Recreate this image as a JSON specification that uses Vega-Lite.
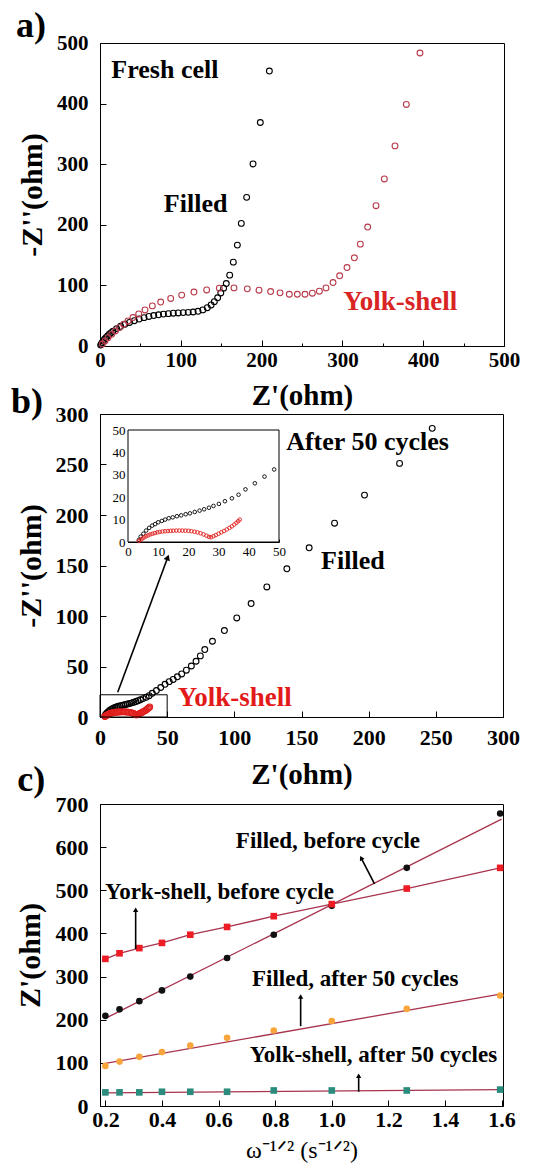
{
 "$schema": "https://vega.github.io/schema/vega-lite/v6.json",
 "background": "white",
 "padding": {"left": 10, "top": 7, "right": 5, "bottom": 0},
 "bounds": "flush",
 "spacing": 0,
 "resolve": {"scale": {"color": "independent", "shape": "independent"}},
 "config": {
  "view": {"stroke": "#000000", "strokeWidth": 1},
  "axis": {"grid": false, "domainColor": "#000000", "tickColor": "#000000", "labelColor": "#000000", "titleColor": "#000000", "labelFont": "Liberation Serif", "titleFont": "Liberation Serif", "labelFontWeight": "bold", "titleFontWeight": "bold", "labelFlush": false, "labelOverlap": false, "domainWidth": 1, "tickWidth": 1}
 },
 "datasets": {
  "a": [
   {"s":"Filled","zr":0.8,"zi":1.5},{"s":"Filled","zr":1.7,"zi":3.3},{"s":"Filled","zr":2.8,"zi":5.8},{"s":"Filled","zr":4.1,"zi":8.3},{"s":"Filled","zr":5.6,"zi":11},{"s":"Filled","zr":7.4,"zi":13.8},{"s":"Filled","zr":9.4,"zi":16.6},{"s":"Filled","zr":11.6,"zi":19.3},{"s":"Filled","zr":13.8,"zi":21.9},{"s":"Filled","zr":16.1,"zi":24.3},{"s":"Filled","zr":20.6,"zi":28.7},{"s":"Filled","zr":25.6,"zi":32.5},{"s":"Filled","zr":30.9,"zi":35.8},{"s":"Filled","zr":36.5,"zi":38.8},{"s":"Filled","zr":42.5,"zi":41.8},{"s":"Filled","zr":48.5,"zi":44.5},{"s":"Filled","zr":54.5,"zi":46.8},{"s":"Filled","zr":60.5,"zi":48.7},{"s":"Filled","zr":66.5,"zi":50.2},{"s":"Filled","zr":72.5,"zi":51.5},{"s":"Filled","zr":78.5,"zi":52.6},{"s":"Filled","zr":84.6,"zi":53.4},{"s":"Filled","zr":90.7,"zi":54.1},{"s":"Filled","zr":96.8,"zi":54.6},{"s":"Filled","zr":103,"zi":55.1},{"s":"Filled","zr":109.2,"zi":55.5},{"s":"Filled","zr":115.3,"zi":56.1},{"s":"Filled","zr":121.3,"zi":57.3},{"s":"Filled","zr":127.2,"zi":59.6},{"s":"Filled","zr":132.8,"zi":63.2},{"s":"Filled","zr":137.5,"zi":67.8},{"s":"Filled","zr":141.5,"zi":73.2},{"s":"Filled","zr":145.6,"zi":79.5},{"s":"Filled","zr":149.5,"zi":87.5},{"s":"Filled","zr":153,"zi":95.5},{"s":"Filled","zr":156.3,"zi":103},{"s":"Filled","zr":160.5,"zi":116.9},{"s":"Filled","zr":165,"zi":138.4},{"s":"Filled","zr":170,"zi":166.5},{"s":"Filled","zr":174.9,"zi":202.3},{"s":"Filled","zr":181.5,"zi":245.3},{"s":"Filled","zr":189.4,"zi":300.4},{"s":"Filled","zr":198.4,"zi":368.8},{"s":"Filled","zr":209.6,"zi":453.7},
   {"s":"Yolk-shell","zr":2.9,"zi":3.3},{"s":"Yolk-shell","zr":6.2,"zi":8.3},{"s":"Yolk-shell","zr":9.9,"zi":13.8},{"s":"Yolk-shell","zr":14.4,"zi":19.3},{"s":"Yolk-shell","zr":19,"zi":24.8},{"s":"Yolk-shell","zr":23.9,"zi":30.3},{"s":"Yolk-shell","zr":29.3,"zi":35.8},{"s":"Yolk-shell","zr":34.7,"zi":41.3},{"s":"Yolk-shell","zr":40.8,"zi":46.9},{"s":"Yolk-shell","zr":47.9,"zi":52.9},{"s":"Yolk-shell","zr":55.7,"zi":59.5},{"s":"Yolk-shell","zr":64.8,"zi":66.2},{"s":"Yolk-shell","zr":75.1,"zi":72.5},{"s":"Yolk-shell","zr":87.5,"zi":78.5},{"s":"Yolk-shell","zr":101.1,"zi":84},{"s":"Yolk-shell","zr":116.3,"zi":89},{"s":"Yolk-shell","zr":132,"zi":92.5},{"s":"Yolk-shell","zr":147.7,"zi":95.5},{"s":"Yolk-shell","zr":165.8,"zi":95.9},{"s":"Yolk-shell","zr":182.3,"zi":94.3},{"s":"Yolk-shell","zr":196.8,"zi":92.1},{"s":"Yolk-shell","zr":211.2,"zi":89.9},{"s":"Yolk-shell","zr":222.8,"zi":87.7},{"s":"Yolk-shell","zr":234.3,"zi":85.4},{"s":"Yolk-shell","zr":244.2,"zi":85.4},{"s":"Yolk-shell","zr":253.7,"zi":85.4},{"s":"Yolk-shell","zr":262.8,"zi":87.1},{"s":"Yolk-shell","zr":271.5,"zi":90.4},{"s":"Yolk-shell","zr":279.7,"zi":95.9},{"s":"Yolk-shell","zr":288.4,"zi":104.7},{"s":"Yolk-shell","zr":296.6,"zi":115.8},{"s":"Yolk-shell","zr":305.7,"zi":129.5},{"s":"Yolk-shell","zr":314.8,"zi":145.5},{"s":"Yolk-shell","zr":322.2,"zi":168.1},{"s":"Yolk-shell","zr":331.3,"zi":196.3},{"s":"Yolk-shell","zr":341.6,"zi":231.5},{"s":"Yolk-shell","zr":351.9,"zi":275.6},{"s":"Yolk-shell","zr":365.1,"zi":330.2},{"s":"Yolk-shell","zr":379.1,"zi":398.6},{"s":"Yolk-shell","zr":396,"zi":483.5}
  ],
  "b": [
   {"s":"Filled","zr":3.6,"zi":0.9},{"s":"Filled","zr":4.2,"zi":2.4},{"s":"Filled","zr":5.1,"zi":3.7},{"s":"Filled","zr":6,"zi":5.1},{"s":"Filled","zr":7,"zi":6.3},{"s":"Filled","zr":8,"zi":7.3},{"s":"Filled","zr":9,"zi":8},{"s":"Filled","zr":10,"zi":8.8},{"s":"Filled","zr":11.2,"zi":9.4},{"s":"Filled","zr":12.3,"zi":10},{"s":"Filled","zr":13.5,"zi":10.6},{"s":"Filled","zr":14.8,"zi":11},{"s":"Filled","zr":16.2,"zi":11.5},{"s":"Filled","zr":17.6,"zi":11.9},{"s":"Filled","zr":19.1,"zi":12.4},{"s":"Filled","zr":20.5,"zi":12.8},{"s":"Filled","zr":22.1,"zi":13.4},{"s":"Filled","zr":23.7,"zi":14},{"s":"Filled","zr":25.2,"zi":14.6},{"s":"Filled","zr":26.8,"zi":15.3},{"s":"Filled","zr":28.3,"zi":16.1},{"s":"Filled","zr":30.1,"zi":17},{"s":"Filled","zr":32.1,"zi":18.2},{"s":"Filled","zr":34.4,"zi":19.5},{"s":"Filled","zr":36.6,"zi":21.1},{"s":"Filled","zr":38.9,"zi":23.5},{"s":"Filled","zr":42,"zi":26.2},{"s":"Filled","zr":45.2,"zi":29.2},{"s":"Filled","zr":48.4,"zi":32.4},{"s":"Filled","zr":51.5,"zi":35},{"s":"Filled","zr":54.5,"zi":37.2},{"s":"Filled","zr":57.6,"zi":39.8},{"s":"Filled","zr":60.8,"zi":42.6},{"s":"Filled","zr":64.3,"zi":46.3},{"s":"Filled","zr":68,"zi":50.5},{"s":"Filled","zr":71.5,"zi":55.2},{"s":"Filled","zr":74.7,"zi":60.5},{"s":"Filled","zr":78,"zi":66.8},{"s":"Filled","zr":83.7,"zi":75},{"s":"Filled","zr":92.6,"zi":85.6},{"s":"Filled","zr":101.8,"zi":98.1},{"s":"Filled","zr":112.5,"zi":112.3},{"s":"Filled","zr":124.2,"zi":128.8},{"s":"Filled","zr":139.1,"zi":146.7},{"s":"Filled","zr":155.7,"zi":167.5},{"s":"Filled","zr":174.6,"zi":191.9},{"s":"Filled","zr":196.9,"zi":219.7},{"s":"Filled","zr":223,"zi":251.1},{"s":"Filled","zr":247.3,"zi":285.8},
   {"s":"Yolk-shell","zr":3.6,"zi":0.5},{"s":"Yolk-shell","zr":4.2,"zi":1},{"s":"Yolk-shell","zr":4.8,"zi":1.6},{"s":"Yolk-shell","zr":5.4,"zi":2.1},{"s":"Yolk-shell","zr":6,"zi":2.6},{"s":"Yolk-shell","zr":6.7,"zi":3},{"s":"Yolk-shell","zr":7.4,"zi":3.4},{"s":"Yolk-shell","zr":8.1,"zi":3.7},{"s":"Yolk-shell","zr":8.9,"zi":4},{"s":"Yolk-shell","zr":9.7,"zi":4.3},{"s":"Yolk-shell","zr":10.5,"zi":4.5},{"s":"Yolk-shell","zr":11.4,"zi":4.7},{"s":"Yolk-shell","zr":12.3,"zi":4.8},{"s":"Yolk-shell","zr":13.2,"zi":4.9},{"s":"Yolk-shell","zr":14.1,"zi":5},{"s":"Yolk-shell","zr":15,"zi":5.05},{"s":"Yolk-shell","zr":16,"zi":5.1},{"s":"Yolk-shell","zr":17,"zi":5.1},{"s":"Yolk-shell","zr":18,"zi":5.1},{"s":"Yolk-shell","zr":19,"zi":5.05},{"s":"Yolk-shell","zr":20,"zi":5},{"s":"Yolk-shell","zr":21,"zi":4.8},{"s":"Yolk-shell","zr":22,"zi":4.6},{"s":"Yolk-shell","zr":23,"zi":4.3},{"s":"Yolk-shell","zr":24,"zi":3.9},{"s":"Yolk-shell","zr":25,"zi":3.4},{"s":"Yolk-shell","zr":26,"zi":2.8},{"s":"Yolk-shell","zr":26.8,"zi":2.3},{"s":"Yolk-shell","zr":27.5,"zi":2.1},{"s":"Yolk-shell","zr":28.3,"zi":2.6},{"s":"Yolk-shell","zr":29.1,"zi":3.1},{"s":"Yolk-shell","zr":30,"zi":3.7},{"s":"Yolk-shell","zr":30.9,"zi":4.3},{"s":"Yolk-shell","zr":31.8,"zi":4.9},{"s":"Yolk-shell","zr":32.7,"zi":5.6},{"s":"Yolk-shell","zr":33.6,"zi":6.3},{"s":"Yolk-shell","zr":34.4,"zi":7},{"s":"Yolk-shell","zr":35.2,"zi":7.8},{"s":"Yolk-shell","zr":35.9,"zi":8.6},{"s":"Yolk-shell","zr":36.5,"zi":9.3},{"s":"Yolk-shell","zr":37,"zi":10}
  ],
  "c": [
   {"s":"Filled, before cycle","w":0.2,"z":209},{"s":"Filled, before cycle","w":0.25,"z":224},{"s":"Filled, before cycle","w":0.32,"z":243},{"s":"Filled, before cycle","w":0.4,"z":268},{"s":"Filled, before cycle","w":0.5,"z":300},{"s":"Filled, before cycle","w":0.63,"z":343},{"s":"Filled, before cycle","w":0.795,"z":397},{"s":"Filled, before cycle","w":1.0,"z":464},{"s":"Filled, before cycle","w":1.265,"z":552},{"s":"Filled, before cycle","w":1.595,"z":678},
   {"s":"York-shell, before cycle","w":0.2,"z":341},{"s":"York-shell, before cycle","w":0.25,"z":354},{"s":"York-shell, before cycle","w":0.32,"z":366},{"s":"York-shell, before cycle","w":0.4,"z":378},{"s":"York-shell, before cycle","w":0.5,"z":397},{"s":"York-shell, before cycle","w":0.63,"z":415},{"s":"York-shell, before cycle","w":0.795,"z":440},{"s":"York-shell, before cycle","w":1.0,"z":468},{"s":"York-shell, before cycle","w":1.265,"z":504},{"s":"York-shell, before cycle","w":1.595,"z":552},
   {"s":"Filled, after 50 cycles","w":0.2,"z":93},{"s":"Filled, after 50 cycles","w":0.25,"z":103},{"s":"Filled, after 50 cycles","w":0.32,"z":114},{"s":"Filled, after 50 cycles","w":0.4,"z":125},{"s":"Filled, after 50 cycles","w":0.5,"z":140},{"s":"Filled, after 50 cycles","w":0.63,"z":158},{"s":"Filled, after 50 cycles","w":0.795,"z":175},{"s":"Filled, after 50 cycles","w":1.0,"z":197},{"s":"Filled, after 50 cycles","w":1.265,"z":225},{"s":"Filled, after 50 cycles","w":1.595,"z":256},
   {"s":"Yolk-shell, after 50 cycles","w":0.2,"z":31.6},{"s":"Yolk-shell, after 50 cycles","w":0.25,"z":31.6},{"s":"Yolk-shell, after 50 cycles","w":0.32,"z":31.6},{"s":"Yolk-shell, after 50 cycles","w":0.4,"z":33},{"s":"Yolk-shell, after 50 cycles","w":0.5,"z":33},{"s":"Yolk-shell, after 50 cycles","w":0.63,"z":33},{"s":"Yolk-shell, after 50 cycles","w":0.795,"z":36},{"s":"Yolk-shell, after 50 cycles","w":1.0,"z":36},{"s":"Yolk-shell, after 50 cycles","w":1.265,"z":36},{"s":"Yolk-shell, after 50 cycles","w":1.595,"z":38}
  ],
  "cfit": [
   {"s":"Filled, before cycle","w":0.2,"z":203},{"s":"Filled, before cycle","w":1.6,"z":665},
   {"s":"Filled, after 50 cycles","w":0.2,"z":99},{"s":"Filled, after 50 cycles","w":1.6,"z":260},
   {"s":"Yolk-shell, after 50 cycles","w":0.2,"z":30.5},{"s":"Yolk-shell, after 50 cycles","w":1.6,"z":38}
  ]
 },
 "vconcat": [
  {
   "width": 404, "height": 303,
   "layer": [
    {
     "data": {"name": "a"},
     "mark": {"type": "point", "filled": false, "size": 34, "strokeWidth": 1.1, "opacity": 1},
     "encoding": {
      "x": {"field": "zr", "type": "quantitative", "scale": {"domain": [0, 500]},
       "axis": {"title": "Z'(ohm)", "values": [0,50,100,150,200,250,300,350,400,450,500], "labelExpr": "datum.value % 100 === 0 ? datum.label : ''", "tickSize": {"condition": {"test": "datum.value % 100 === 0", "value": -6}, "value": -3}, "labelPadding": 9, "labelFontSize": 21, "titleFontSize": 29, "titlePadding": 8}},
      "y": {"field": "zi", "type": "quantitative", "scale": {"domain": [0, 500]},
       "axis": {"title": "-Z''(ohm)", "values": [0,50,100,150,200,250,300,350,400,450,500], "labelExpr": "datum.value % 100 === 0 ? datum.label : ''", "tickSize": {"condition": {"test": "datum.value % 100 === 0", "value": -6}, "value": -3}, "labelPadding": 18, "labelFontSize": 21, "titleFontSize": 30, "titlePadding": 9}},
      "color": {"field": "s", "type": "nominal", "scale": {"domain": ["Filled", "Yolk-shell"], "range": ["#000000", "#b83c4c"]}, "legend": null}
     }
    },
    {
     "data": {"values": [{"t": "Fresh cell", "zr": 14, "zi": 443}, {"t": "Filled", "zr": 79, "zi": 221}]},
     "mark": {"type": "text", "align": "left", "baseline": "alphabetic", "font": "Liberation Serif", "fontWeight": "bold", "fontSize": 26, "color": "#000000"},
     "encoding": {"x": {"field": "zr", "type": "quantitative", "scale": {"domain": [0, 500]}}, "y": {"field": "zi", "type": "quantitative", "scale": {"domain": [0, 500]}}, "text": {"field": "t"}}
    },
    {
     "data": {"values": [{"t": "Yolk-shell", "zr": 301, "zi": 60}]},
     "mark": {"type": "text", "align": "left", "baseline": "alphabetic", "font": "Liberation Serif", "fontWeight": "bold", "fontSize": 27, "color": "#d92424"},
     "encoding": {"x": {"field": "zr", "type": "quantitative", "scale": {"domain": [0, 500]}}, "y": {"field": "zi", "type": "quantitative", "scale": {"domain": [0, 500]}}, "text": {"field": "t"}}
    },
    {
     "data": {"values": [{"t": "a)", "zr": -104, "zi": 510}]},
     "mark": {"type": "text", "align": "left", "baseline": "alphabetic", "font": "Liberation Serif", "fontWeight": "bold", "fontSize": 36, "color": "#000000"},
     "encoding": {"x": {"field": "zr", "type": "quantitative", "scale": {"domain": [0, 500]}}, "y": {"field": "zi", "type": "quantitative", "scale": {"domain": [0, 500]}}, "text": {"field": "t"}}
    }
   ]
  },
  {"width": 403, "height": 68, "data": {"values": []}, "mark": {"type": "point", "opacity": 0}, "view": {"stroke": null}},
  {
   "width": 403, "height": 303,
   "resolve": {"scale": {"x": "independent", "y": "independent"}, "axis": {"x": "independent", "y": "independent"}},
   "layer": [
    {
     "layer": [
      {
       "data": {"name": "b"},
       "mark": {"type": "point", "filled": false, "size": 34, "strokeWidth": 1.1, "opacity": 1},
       "encoding": {
        "x": {"field": "zr", "type": "quantitative", "scale": {"domain": [0, 300]},
         "axis": {"orient": "bottom", "title": "Z'(ohm)", "values": [0,25,50,75,100,125,150,175,200,225,250,275,300], "labelExpr": "datum.value % 50 === 0 ? datum.label : ''", "tickSize": {"condition": {"test": "datum.value % 50 === 0", "value": -6}, "value": -3}, "labelPadding": 16, "labelFontSize": 22, "titleFontSize": 29, "titlePadding": 12}},
        "y": {"field": "zi", "type": "quantitative", "scale": {"domain": [0, 300]},
         "axis": {"orient": "left", "title": "-Z''(ohm)", "values": [0,25,50,75,100,125,150,175,200,225,250,275,300], "labelExpr": "datum.value % 50 === 0 ? datum.label : ''", "tickSize": {"condition": {"test": "datum.value % 50 === 0", "value": -6}, "value": -3}, "labelPadding": 18, "labelFontSize": 22, "titleFontSize": 30, "titlePadding": 9}},
        "color": {"field": "s", "type": "nominal", "scale": {"domain": ["Filled", "Yolk-shell"], "range": ["#000000", "#e0201e"]}, "legend": null}
       }
      },
      {
       "data": {"values": [{"zr": 0, "zr2": 50, "zi": 0, "zi2": 22}]},
       "mark": {"type": "rect", "filled": false, "stroke": "#000000", "strokeWidth": 1},
       "encoding": {"x": {"field": "zr", "type": "quantitative", "scale": {"domain": [0, 300]}}, "x2": {"field": "zr2"}, "y": {"field": "zi", "type": "quantitative", "scale": {"domain": [0, 300]}}, "y2": {"field": "zi2"}}
      },
      {
       "data": {"values": [{"zr": 13.2, "zi": 24.5, "zr2": 50.4, "zi2": 158}]},
       "mark": {"type": "rule", "stroke": "#000000", "strokeWidth": 1.6},
       "encoding": {"x": {"field": "zr", "type": "quantitative", "scale": {"domain": [0, 300]}}, "x2": {"field": "zr2"}, "y": {"field": "zi", "type": "quantitative", "scale": {"domain": [0, 300]}}, "y2": {"field": "zi2"}}
      },
      {
       "data": {"values": [{"zr": 50.4, "zi": 158}]},
       "mark": {"type": "point", "shape": "triangle-up", "angle": 20, "filled": true, "size": 45, "color": "#000000", "opacity": 1},
       "encoding": {"x": {"field": "zr", "type": "quantitative", "scale": {"domain": [0, 300]}}, "y": {"field": "zi", "type": "quantitative", "scale": {"domain": [0, 300]}}}
      },
      {
       "data": {"values": [{"t": "After 50 cycles", "zr": 138.6, "zi": 264.6}, {"t": "Filled", "zr": 164.6, "zi": 146.4}]},
       "mark": {"type": "text", "align": "left", "baseline": "alphabetic", "font": "Liberation Serif", "fontWeight": "bold", "fontSize": 26, "color": "#000000"},
       "encoding": {"x": {"field": "zr", "type": "quantitative", "scale": {"domain": [0, 300]}}, "y": {"field": "zi", "type": "quantitative", "scale": {"domain": [0, 300]}}, "text": {"field": "t"}}
      },
      {
       "data": {"values": [{"t": "Yolk-shell", "zr": 57.9, "zi": 10.9}]},
       "mark": {"type": "text", "align": "left", "baseline": "alphabetic", "font": "Liberation Serif", "fontWeight": "bold", "fontSize": 27, "color": "#e31a1a"},
       "encoding": {"x": {"field": "zr", "type": "quantitative", "scale": {"domain": [0, 300]}}, "y": {"field": "zi", "type": "quantitative", "scale": {"domain": [0, 300]}}, "text": {"field": "t"}}
      },
      {
       "data": {"values": [{"t": "b)", "zr": -66.3, "zi": 301}]},
       "mark": {"type": "text", "align": "left", "baseline": "alphabetic", "font": "Liberation Serif", "fontWeight": "bold", "fontSize": 36, "color": "#000000"},
       "encoding": {"x": {"field": "zr", "type": "quantitative", "scale": {"domain": [0, 300]}}, "y": {"field": "zi", "type": "quantitative", "scale": {"domain": [0, 300]}}, "text": {"field": "t"}}
      }
     ]
    },
    {
     "layer": [
      {
       "data": {"values": [{"zr": 0, "zr2": 50, "zi": 0, "zi2": 50}]},
       "mark": {"type": "rect", "fill": "#ffffff", "stroke": "#000000", "strokeWidth": 1},
       "encoding": {
        "x": {"field": "zr", "type": "quantitative", "scale": {"domain": [0, 50], "range": [28, 179]},
         "axis": {"orient": "bottom", "offset": -175, "title": null, "values": [0,10,20,30,40,50], "tickSize": -3, "labelPadding": 6, "labelFontSize": 13, "labelFontWeight": "normal"}},
        "x2": {"field": "zr2"},
        "y": {"field": "zi", "type": "quantitative", "scale": {"domain": [0, 50], "range": [128, 16]},
         "axis": {"orient": "left", "offset": -28, "title": null, "values": [0,10,20,30,40,50], "tickSize": -3, "labelPadding": 6, "labelFontSize": 13, "labelFontWeight": "normal"}},
        "y2": {"field": "zi2"}
       }
      },
      {
       "data": {"name": "b"},
       "transform": [{"filter": "datum.zr <= 50"}],
       "mark": {"type": "point", "filled": false, "size": 13, "strokeWidth": 0.9, "opacity": 1},
       "encoding": {
        "x": {"field": "zr", "type": "quantitative", "scale": {"domain": [0, 50], "range": [28, 179]}},
        "y": {"field": "zi", "type": "quantitative", "scale": {"domain": [0, 50], "range": [128, 16]}},
        "color": {"field": "s", "type": "nominal", "scale": {"domain": ["Filled", "Yolk-shell"], "range": ["#000000", "#e0201e"]}, "legend": null}
       }
      }
     ]
    }
   ]
  },
  {"width": 403, "height": 87, "data": {"values": []}, "mark": {"type": "point", "opacity": 0}, "view": {"stroke": null}},
  {
   "width": 403, "height": 302,
   "layer": [
    {
     "data": {"name": "c"},
     "mark": {"type": "point", "filled": true, "size": 44, "opacity": 0},
     "encoding": {
      "x": {"field": "w", "type": "quantitative", "scale": {"domain": [0.181, 1.605]},
       "axis": {"title": "ω⁻¹ᐟ² (s⁻¹ᐟ²)", "values": [0.2,0.3,0.4,0.5,0.6,0.7,0.8,0.9,1.0,1.1,1.2,1.3,1.4,1.5,1.6], "labelExpr": "round(datum.value*10) % 2 === 0 ? format(datum.value, '.1f') : ''", "tickSize": {"condition": {"test": "round(datum.value*10) % 2 === 0", "value": -6}, "value": -3}, "labelPadding": 9, "labelFontSize": 22, "titleFontSize": 24, "titleFontWeight": "normal", "titlePadding": 8}},
      "y": {"field": "z", "type": "quantitative", "scale": {"domain": [0, 700]},
       "axis": {"title": "Z'(ohm)", "values": [0,50,100,150,200,250,300,350,400,450,500,550,600,650,700], "labelExpr": "datum.value % 100 === 0 ? datum.label : ''", "tickSize": {"condition": {"test": "datum.value % 100 === 0", "value": -6}, "value": -3}, "labelPadding": 18, "labelFontSize": 22, "titleFontSize": 30, "titlePadding": 10}}
     }
    },
    {
     "data": {"name": "cfit"},
     "mark": {"type": "line", "color": "#a8334d", "strokeWidth": 1.3},
     "encoding": {"x": {"field": "w", "type": "quantitative", "scale": {"domain": [0.181, 1.605]}}, "y": {"field": "z", "type": "quantitative", "scale": {"domain": [0, 700]}}, "detail": {"field": "s"}}
    },
    {
     "data": {"name": "c"},
     "transform": [{"filter": "datum.s === 'York-shell, before cycle'"}],
     "mark": {"type": "line", "color": "#a8334d", "strokeWidth": 1.3},
     "encoding": {"x": {"field": "w", "type": "quantitative", "scale": {"domain": [0.181, 1.605]}}, "y": {"field": "z", "type": "quantitative", "scale": {"domain": [0, 700]}}}
    },
    {
     "data": {"name": "c"},
     "mark": {"type": "point", "filled": true, "size": 44, "opacity": 1},
     "encoding": {
      "x": {"field": "w", "type": "quantitative", "scale": {"domain": [0.181, 1.605]}},
      "y": {"field": "z", "type": "quantitative", "scale": {"domain": [0, 700]}},
      "shape": {"field": "s", "type": "nominal", "scale": {"domain": ["Filled, before cycle", "York-shell, before cycle", "Filled, after 50 cycles", "Yolk-shell, after 50 cycles"], "range": ["circle", "square", "circle", "square"]}, "legend": null},
      "color": {"field": "s", "type": "nominal", "scale": {"domain": ["Filled, before cycle", "York-shell, before cycle", "Filled, after 50 cycles", "Yolk-shell, after 50 cycles"], "range": ["#111111", "#ee1c24", "#f8a53c", "#2b8c7e"]}, "legend": null}
     }
    },
    {
     "data": {"values": [{"t": "Filled, before cycle", "w": 0.661, "z": 597}, {"t": "York-shell, before cycle", "w": 0.199, "z": 480}, {"t": "Filled, after 50 cycles", "w": 0.718, "z": 279}, {"t": "Yolk-shell, after 50 cycles", "w": 0.71, "z": 102}]},
     "mark": {"type": "text", "align": "left", "baseline": "alphabetic", "font": "Liberation Serif", "fontWeight": "bold", "fontSize": 23, "color": "#000000"},
     "encoding": {"x": {"field": "w", "type": "quantitative", "scale": {"domain": [0.181, 1.605]}}, "y": {"field": "z", "type": "quantitative", "scale": {"domain": [0, 700]}}, "text": {"field": "t"}}
    },
    {
     "data": {"values": [{"w": 1.151, "z": 514.6, "w2": 1.104, "z2": 574.8}, {"w": 0.307, "z": 364, "w2": 0.307, "z2": 455}, {"w": 0.89, "z": 185, "w2": 0.89, "z2": 254}, {"w": 1.095, "z": 33, "w2": 1.095, "z2": 70}]},
     "mark": {"type": "rule", "stroke": "#000000", "strokeWidth": 1.6},
     "encoding": {"x": {"field": "w", "type": "quantitative", "scale": {"domain": [0.181, 1.605]}}, "x2": {"field": "w2"}, "y": {"field": "z", "type": "quantitative", "scale": {"domain": [0, 700]}}, "y2": {"field": "z2"}}
    },
    {
     "data": {"values": [{"w": 0.307, "z": 455}, {"w": 0.89, "z": 254}, {"w": 1.095, "z": 70}]},
     "mark": {"type": "point", "shape": "triangle-up", "filled": true, "size": 28, "color": "#000000", "opacity": 1},
     "encoding": {"x": {"field": "w", "type": "quantitative", "scale": {"domain": [0.181, 1.605]}}, "y": {"field": "z", "type": "quantitative", "scale": {"domain": [0, 700]}}}
    },
    {
     "data": {"values": [{"w": 1.104, "z": 574.8}]},
     "mark": {"type": "point", "shape": "triangle-up", "angle": -27, "filled": true, "size": 28, "color": "#000000", "opacity": 1},
     "encoding": {"x": {"field": "w", "type": "quantitative", "scale": {"domain": [0.181, 1.605]}}, "y": {"field": "z", "type": "quantitative", "scale": {"domain": [0, 700]}}}
    },
    {
     "data": {"values": [{"t": "c)", "w": -0.111, "z": 730}]},
     "mark": {"type": "text", "align": "left", "baseline": "alphabetic", "font": "Liberation Serif", "fontWeight": "bold", "fontSize": 36, "color": "#000000"},
     "encoding": {"x": {"field": "w", "type": "quantitative", "scale": {"domain": [0.181, 1.605]}}, "y": {"field": "z", "type": "quantitative", "scale": {"domain": [0, 700]}}, "text": {"field": "t"}}
    }
   ]
  }
 ]
}
